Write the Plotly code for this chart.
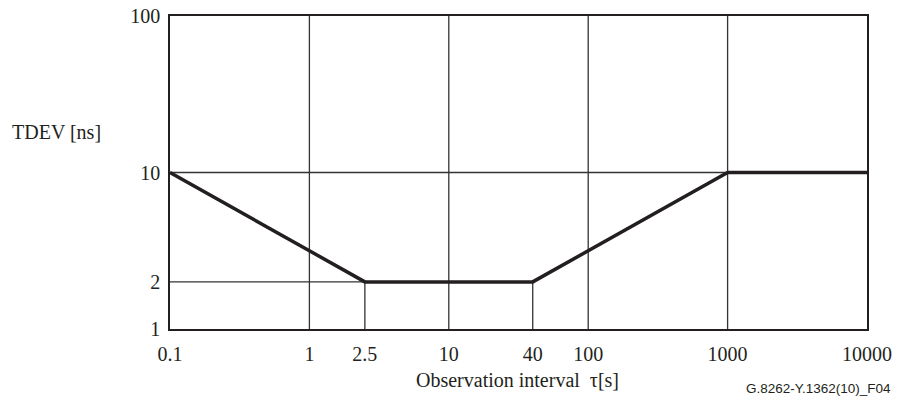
import plotly.graph_objects as go

# Data
tau = [0.1, 2.5, 40, 1000, 10000]
tdev = [10, 2, 2, 10, 10]
x_tick_vals = [0.1, 1, 2.5, 10, 40, 100, 1000, 10000]
x_tick_text = ["0.1", "1", "2.5", "10", "40", "100", "1000", "10000"]
y_tick_vals = [1, 2, 10, 100]
y_tick_text = ["1", "2", "10", "100"]
grid_x = [1, 10, 100, 1000]
grid_y = [10]
y_floor = 1

INK = "#231f20"
GRID = "#333333"
SERIF = "Liberation Serif"

fig = go.Figure()
fig.add_trace(go.Scatter(x=tau, y=tdev, mode="lines",
                         line=dict(color=INK, width=3.5), showlegend=False,
                         hoverinfo="skip"))

shapes = []
for gx in grid_x:
    shapes.append(dict(type="line", xref="x", yref="paper", x0=gx, x1=gx, y0=0, y1=1,
                       line=dict(color=GRID, width=1.3), layer="below"))
for gy in grid_y:
    shapes.append(dict(type="line", xref="paper", yref="y", x0=0, x1=1, y0=gy, y1=gy,
                       line=dict(color=GRID, width=1.3), layer="below"))
# drop lines from the 2 ns floor
shapes.append(dict(type="line", xref="x", yref="y", x0=tau[0], x1=tau[1], y0=tdev[1], y1=tdev[1],
                   line=dict(color=GRID, width=1.3), layer="below"))
for i in (1, 2):
    shapes.append(dict(type="line", xref="x", yref="y", x0=tau[i], x1=tau[i], y0=y_floor, y1=tdev[i],
                       line=dict(color=GRID, width=1.3), layer="below"))

fig.update_layout(
    width=897, height=398,
    margin=dict(l=170, r=30, t=16, b=69),
    paper_bgcolor="white", plot_bgcolor="white",
    shapes=shapes,
    font=dict(family=SERIF, size=20, color=INK),
    xaxis=dict(type="log", range=[-1, 4], tickvals=x_tick_vals, ticktext=x_tick_text,
               showgrid=False, zeroline=False, showline=True, mirror=True, automargin=False,
               linecolor=INK, linewidth=1.6, ticks="", ticklabelstandoff=6,
               tickfont=dict(family=SERIF, size=20, color=INK)),
    yaxis=dict(type="log", range=[0, 2], tickvals=y_tick_vals, ticktext=y_tick_text,
               showgrid=False, zeroline=False, showline=True, mirror=True, automargin=False,
               linecolor=INK, linewidth=1.6, ticks="", ticklabelstandoff=4,
               tickfont=dict(family=SERIF, size=20, color=INK)),
    annotations=[
        dict(text="TDEV [ns]", xref="paper", yref="paper", x=-0.230, y=0.63,
             xanchor="left", yanchor="middle", showarrow=False,
             font=dict(family=SERIF, size=20, color=INK)),
        dict(text="Observation interval  τ[s]", xref="paper", yref="paper", x=0.498, y=-0.163,
             xanchor="center", yanchor="middle", showarrow=False,
             font=dict(family=SERIF, size=20, color=INK)),
        dict(text="G.8262-Y.1362(10)_F04", xref="paper", yref="paper", x=1.037, y=-0.19,
             xanchor="right", yanchor="middle", showarrow=False,
             font=dict(family="Liberation Sans", size=13.5, color=INK)),
    ],
)

fig.write_html("out.html")
